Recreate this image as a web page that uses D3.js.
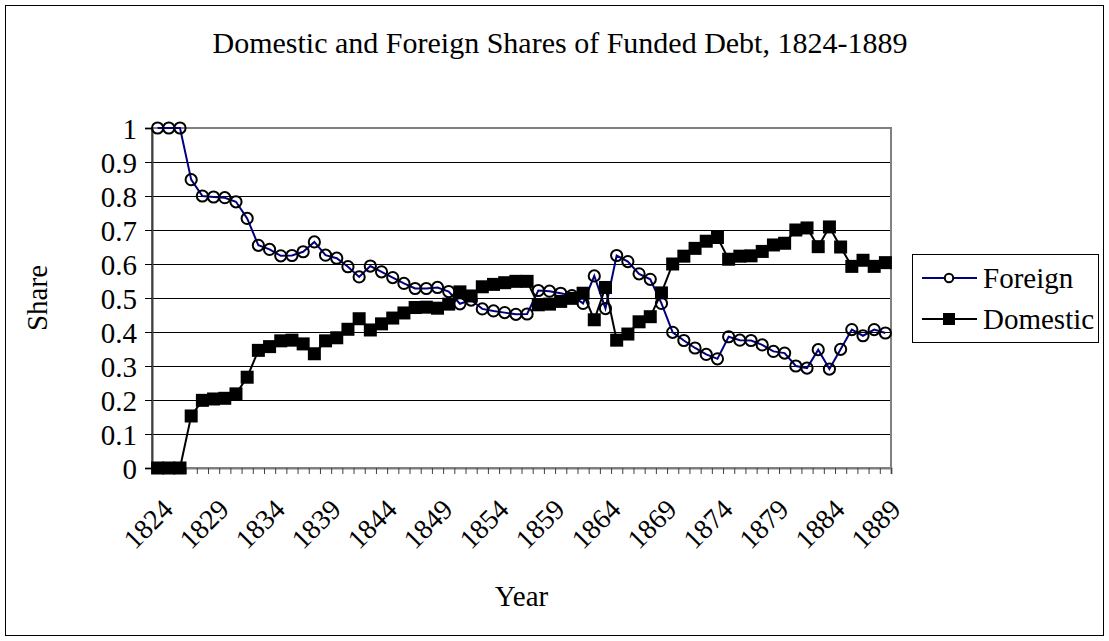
<!DOCTYPE html>
<html>
<head>
<meta charset="UTF-8">
<title>Funded Debt</title>
<script src="https://cdn.jsdelivr.net/npm/d3@7/dist/d3.min.js"></script>
<style>
	body { margin: 0; background: #fff; }
</style>
</head>
<body>
	<div id="chart"></div>
	<script type="text/javascript">
		// years 1824 .. 1889
		var years = [1824, 1825, 1826, 1827, 1828, 1829, 1830, 1831, 1832, 1833,
			1834, 1835, 1836, 1837, 1838, 1839, 1840, 1841, 1842, 1843,
			1844, 1845, 1846, 1847, 1848, 1849, 1850, 1851, 1852, 1853,
			1854, 1855, 1856, 1857, 1858, 1859, 1860, 1861, 1862, 1863,
			1864, 1865, 1866, 1867, 1868, 1869, 1870, 1871, 1872, 1873,
			1874, 1875, 1876, 1877, 1878, 1879, 1880, 1881, 1882, 1883,
			1884, 1885, 1886, 1887, 1888, 1889];

		var foreign = [1.0, 1.0, 1.0, 0.848, 0.800, 0.797, 0.795, 0.783, 0.734, 0.655,
			0.643, 0.624, 0.625, 0.636, 0.665, 0.626, 0.617, 0.592, 0.562, 0.594,
			0.577, 0.560, 0.543, 0.528, 0.528, 0.531, 0.519, 0.483, 0.494, 0.468,
			0.462, 0.457, 0.452, 0.453, 0.522, 0.520, 0.514, 0.507, 0.484, 0.565,
			0.469, 0.625, 0.607, 0.571, 0.555, 0.484, 0.399, 0.375, 0.353, 0.334,
			0.321, 0.386, 0.376, 0.375, 0.362, 0.343, 0.338, 0.300, 0.294, 0.348,
			0.291, 0.349, 0.407, 0.389, 0.407, 0.397];

		var domestic = [0, 0, 0, 0.153, 0.199, 0.203, 0.205, 0.218, 0.267, 0.346,
			0.357, 0.374, 0.376, 0.365, 0.336, 0.374, 0.383, 0.408, 0.439, 0.406,
			0.424, 0.441, 0.456, 0.472, 0.473, 0.470, 0.482, 0.518, 0.506, 0.533,
			0.540, 0.545, 0.549, 0.549, 0.480, 0.482, 0.490, 0.499, 0.514, 0.436,
			0.531, 0.376, 0.394, 0.430, 0.445, 0.515, 0.600, 0.623, 0.646, 0.667,
			0.678, 0.614, 0.623, 0.624, 0.637, 0.656, 0.661, 0.700, 0.706, 0.651,
			0.709, 0.650, 0.593, 0.611, 0.593, 0.604];

		var yTicks = [0, 0.1, 0.2, 0.3, 0.4, 0.5, 0.6, 0.7, 0.8, 0.9, 1];
		var xLabels = [1824, 1829, 1834, 1839, 1844, 1849, 1854, 1859, 1864, 1869, 1874, 1879, 1884, 1889];
		var seriesNames = ["Foreign", "Domestic"];

		var FONT = "'Liberation Serif', Tinos, 'Times New Roman', 'DejaVu Serif', serif";

		var W = 1109, H = 641;
		var margin = { top : 128, right : 218, bottom : 173, left : 152 };
		var width = W - margin.left - margin.right;
		var height = H - margin.top - margin.bottom;

		var svg = d3.select("#chart").append("svg").attr("width", W).attr("height", H)
			.attr("font-family", FONT);

		// outer chart border
		svg.append("rect").attr("x", 5.5).attr("y", 5.5).attr("width", W - 11).attr("height", H - 11)
			.attr("fill", "#fff").attr("stroke", "#000").attr("stroke-width", 1);

		svg.append("text").attr("x", 560).attr("y", 53).attr("text-anchor", "middle")
			.attr("font-family", FONT).attr("font-size", 30).text("Domestic and Foreign Shares of Funded Debt, 1824-1889");

		var g = svg.append("g").attr("transform", "translate(" + margin.left + "," + margin.top + ")");

		var x = d3.scaleBand().domain(years).range([0, width]);
		var xi = d3.scaleLinear().domain([0, years.length]).range([0, width]);
		var y = d3.scaleLinear().domain([0, 1]).range([height, 0]);
		var cx = function(i) { return x(years[i]) + x.bandwidth() / 2; };

		// gridlines
		g.append("g").selectAll("line").data(yTicks.slice(1, -1)).enter().append("line")
			.attr("x1", 0).attr("x2", width).attr("y1", function(d) { return y(d); }).attr("y2", function(d) { return y(d); })
			.attr("stroke", "#000").attr("stroke-width", 1).attr("shape-rendering", "crispEdges");

		// plot border
		g.append("rect").attr("width", width).attr("height", height)
			.attr("fill", "none").attr("stroke", "#808080").attr("stroke-width", 2);

		// y axis
		var yAxis = g.append("g").call(d3.axisLeft(y).tickValues(yTicks).tickSize(7).tickPadding(8).tickFormat(d3.format("~g")));
		yAxis.attr("font-family", FONT).attr("font-size", 29);
		yAxis.select(".domain").attr("stroke", "#404040").attr("stroke-width", 2);
		yAxis.selectAll(".tick line").attr("stroke", "#000");
		yAxis.selectAll("text").attr("dy", "0.35em");

		// x axis ticks at category boundaries
		var xTickAxis = g.append("g").attr("transform", "translate(0," + height + ")")
			.call(d3.axisBottom(xi).tickValues(d3.range(years.length + 1)).tickSize(6).tickFormat(""));
		xTickAxis.select(".domain").attr("stroke", "#808080").attr("stroke-width", 2);
		xTickAxis.selectAll(".tick line").attr("stroke", "#404040");

		// x labels, every 5 years
		g.append("g").selectAll("text").data(xLabels).enter().append("text")
			.attr("transform", function(d) {
				return "translate(" + (x(d) + x.bandwidth() / 2 + 17) + "," + (height + 43) + ") rotate(-45)";
			})
			.attr("text-anchor", "end").attr("font-family", FONT).attr("font-size", 28).text(function(d) { return d; });

		svg.append("text").attr("transform", "translate(47," + (margin.top + height / 2) + ") rotate(-90)")
			.attr("text-anchor", "middle").attr("font-family", FONT).attr("font-size", 29).text("Share");
		svg.append("text").attr("x", margin.left + width / 2).attr("y", 606)
			.attr("text-anchor", "middle").attr("font-family", FONT).attr("font-size", 29).text("Year");

		var line = function(vals) {
			return d3.line().x(function(d, i) { return cx(i); }).y(function(d) { return y(d); })(vals);
		};

		// Foreign
		g.append("path").attr("d", line(foreign)).attr("fill", "none").attr("stroke", "#000080").attr("stroke-width", 2);
		g.append("g").selectAll("circle").data(foreign).enter().append("circle")
			.attr("cx", function(d, i) { return cx(i); }).attr("cy", function(d) { return y(d); })
			.attr("r", 5.6).attr("fill", "none").attr("stroke", "#000").attr("stroke-width", 2);

		// Domestic
		var sq = 13;
		g.append("path").attr("d", line(domestic)).attr("fill", "none").attr("stroke", "#000").attr("stroke-width", 2);
		g.append("g").selectAll("rect").data(domestic).enter().append("rect")
			.attr("x", function(d, i) { return cx(i) - sq / 2; }).attr("y", function(d) { return y(d) - sq / 2; })
			.attr("width", sq).attr("height", sq).attr("fill", "#000");

		// legend
		var lg = svg.append("g").attr("transform", "translate(912,254)");
		lg.append("rect").attr("x", 0.5).attr("y", 0.5).attr("width", 186).attr("height", 88)
			.attr("fill", "#fff").attr("stroke", "#000").attr("stroke-width", 1);
		var rows = lg.selectAll("g.row").data(seriesNames).enter().append("g").attr("class", "row")
			.attr("transform", function(d, i) { return "translate(0," + (24 + i * 41) + ")"; });
		rows.append("line").attr("x1", 10).attr("x2", 65).attr("y1", 0).attr("y2", 0)
			.attr("stroke", function(d, i) { return i === 0 ? "#000080" : "#000"; }).attr("stroke-width", 2);
		rows.filter(function(d, i) { return i === 0; }).append("circle").attr("cx", 37).attr("cy", 0).attr("r", 4.2)
			.attr("fill", "#fff").attr("stroke", "#000").attr("stroke-width", 2);
		rows.filter(function(d, i) { return i === 1; }).append("rect").attr("x", 31).attr("y", -6).attr("width", 12).attr("height", 12)
			.attr("fill", "#000");
		rows.append("text").attr("x", 71).attr("y", 10).attr("font-family", FONT).attr("font-size", 29).text(function(d) { return d; });
	</script>
</body>
</html>
